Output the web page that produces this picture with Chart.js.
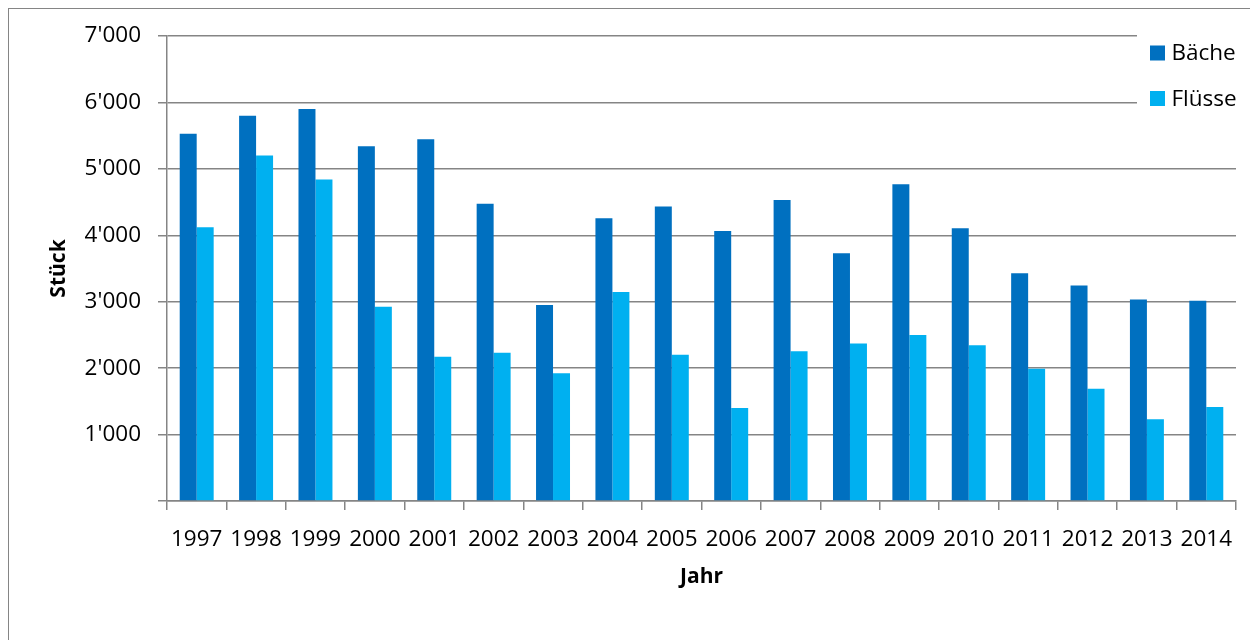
<!DOCTYPE html>
<html>
<head>
<meta charset="utf-8">
<script src="https://cdn.jsdelivr.net/npm/chart.js@4.4.1/dist/chart.umd.min.js"></script>
<style>
  html, body { margin: 0; padding: 0; background: #fff; overflow: hidden; }
  #wrap { position: relative; width: 1250px; height: 640px; }
  #frame { position: absolute; left: 7.5px; top: 7.5px; width: 1300px; height: 700px; border: 1.4px solid #858585; }
  canvas { position: absolute; left: 0; top: 0; }
</style>
</head>
<body>
<div id="wrap">
  <div id="frame"></div>
  <canvas id="chart" width="1250" height="640"></canvas>
</div>
<script>
var years = ['1997', '1998', '1999', '2000', '2001', '2002', '2003', '2004', '2005',
             '2006', '2007', '2008', '2009', '2010', '2011', '2012', '2013', '2014'];
var baeche = [5530, 5800, 5900, 5340, 5445, 4475, 2950, 4255, 4435,
              4065, 4530, 3730, 4770, 4105, 3430, 3245, 3035, 3015];
var fluesse = [4120, 5200, 4840, 2925, 2170, 2230, 1925, 3145, 2200,
               1400, 2255, 2370, 2500, 2345, 1990, 1690, 1230, 1415];
var yTickLabels = ['', "1'000", "2'000", "3'000", "4'000", "5'000", "6'000", "7'000"];

var FONT = "'Open Sans', sans-serif";
var GRID = '#858585';

// legend drawn inside the plot, on a white box that hides the grid behind it
var legendBox = {
  id: 'legendBox',
  afterDraw: function (chart) {
    var ctx = chart.ctx;
    var area = chart.chartArea;
    var x0 = area.right - 99;
    ctx.save();
    ctx.fillStyle = '#fff';
    ctx.fillRect(x0, 22, chart.width - x0, 100);
    ctx.font = '22.5px ' + FONT;
    ctx.textBaseline = 'alphabetic';
    ctx.textAlign = 'left';
    chart.data.datasets.forEach(function (ds, i) {
      var y = 45.5 + i * 45.5;
      ctx.fillStyle = ds.backgroundColor;
      ctx.fillRect(x0 + 13, y, 15, 15);
      ctx.fillStyle = '#000';
      ctx.fillText(ds.label, x0 + 34.5, y + 14.5);
    });
    ctx.restore();
  }
};

new Chart(document.getElementById('chart').getContext('2d'), {
  type: 'bar',
  data: {
    labels: years,
    datasets: [
      { label: 'Bäche', data: baeche, backgroundColor: '#0070c0', barPercentage: 1, categoryPercentage: 0.572 },
      { label: 'Flüsse', data: fluesse, backgroundColor: '#00b0f0', barPercentage: 1, categoryPercentage: 0.572 }
    ]
  },
  options: {
    responsive: false,
    animation: false,
    layout: { padding: { left: 0, right: 14, top: 36, bottom: 0 } },
    plugins: { legend: { display: false }, tooltip: { enabled: false } },
    scales: {
      x: {
        grid: { offset: true, drawOnChartArea: false, drawTicks: true, tickLength: 9, color: GRID, lineWidth: 1.5 },
        border: { color: GRID, width: 1.5 },
        ticks: { color: '#000', font: { family: FONT, size: 22.5 }, autoSkip: false, maxRotation: 0, minRotation: 0, padding: 16 },
        title: {
          display: true, text: 'Jahr', color: '#000',
          font: { family: FONT, size: 21, weight: 'bold' },
          padding: { top: 0, bottom: 50 }
        },
        afterFit: function (s) { s.height = 139; }
      },
      y: {
        min: 0, max: 7000,
        grid: { color: GRID, lineWidth: 1.5, tickLength: 9 },
        border: { color: GRID, width: 1.5 },
        ticks: {
          stepSize: 1000, color: '#000', padding: 17,
          font: { family: FONT, size: 22.5 },
          callback: function (v, i) { return yTickLabels[i]; }
        },
        title: {
          display: true, text: 'Stück', color: '#000',
          font: { family: FONT, size: 21, weight: 'bold' },
          padding: { top: 46, bottom: 0 }
        },
        afterFit: function (s) { s.width = 167; }
      }
    }
  },
  plugins: [legendBox]
});
</script>
</body>
</html>
